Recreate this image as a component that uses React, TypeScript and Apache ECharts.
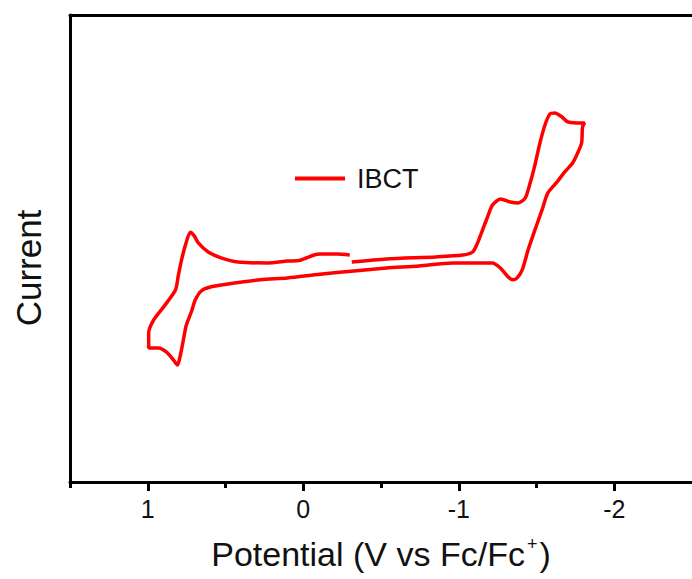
import React, { useEffect, useRef } from "react";
import * as echarts from "echarts";

// Potential (V vs Fc/Fc+) along the scan, in scan order
const potential = [
  -0.312, -0.535, -0.854, -1.025, -1.089, -1.121, -1.153, -1.185, -1.217, -1.268,
  -1.331, -1.382, -1.427, -1.459, -1.49, -1.522, -1.554, -1.586, -1.618, -1.662,
  -1.701, -1.758, -1.809, -1.796, -1.79, -1.764, -1.732, -1.682, -1.631, -1.573,
  -1.535, -1.49, -1.446, -1.408, -1.376, -1.35, -1.318, -1.268, -1.217, -1.127,
  -0.962, -0.745, -0.535, -0.325, -0.108, 0.102, 0.274, 0.484, 0.592, 0.656,
  0.694, 0.72, 0.752, 0.771, 0.79, 0.809, 0.834, 0.879, 0.93, 0.994,
  0.994, 0.962, 0.898, 0.822, 0.803, 0.783, 0.758, 0.726, 0.701, 0.675,
  0.611, 0.529, 0.42, 0.229, 0.102, 0.019, -0.07, -0.108, -0.217, -0.299,
];

// Current (arbitrary units)
const current = [
  47.1, 47.75, 48.2, 48.6, 49.25, 51.2, 53.96, 56.75, 59.3, 60.6,
  59.96, 59.74, 60.8, 64.0, 67.9, 72.6, 76.4, 78.8, 79.0, 78.2,
  77.1, 76.9, 76.9, 76.0, 72.6, 70.4, 68.3, 66.4, 64.2, 61.9,
  58.2, 54.0, 49.7, 45.4, 43.7, 43.3, 43.9, 45.8, 46.9, 46.9,
  46.9, 46.25, 45.8, 45.2, 44.5, 43.7, 43.3, 42.4, 41.8, 40.9,
  39.0, 36.4, 33.6, 30.4, 27.2, 25.05, 26.1, 27.8, 28.7, 28.7,
  31.9, 34.7, 37.5, 41.1, 44.3, 47.5, 50.7, 53.5, 52.7, 51.2,
  49.25, 48.0, 47.1, 46.9, 47.3, 47.5, 48.6, 48.8, 48.8, 48.6,
];

const majorTicks = [1, 0, -1, -2];
const minorTicks = [1.5, 1, 0.5, 0, -0.5, -1, -1.5, -2];
const seriesName = "IBCT";
const xTitle = "Potential (V vs Fc/Fc";
const yTitle = "Current";

export default function App() {
  const ref = useRef<HTMLDivElement>(null);
  useEffect(() => {
    if (!ref.current) return;
    const chart = echarts.init(ref.current, null, { renderer: "svg" });
    const data = potential.map((p, i) => [p, current[i]]);
    const font = "Liberation Sans, Arial, sans-serif";
    chart.setOption({
      animation: false,
      backgroundColor: "#fff",
      grid: {
        left: 70,
        top: 15,
        right: -7,
        bottom: 97,
        show: false,
        containLabel: false,
      },
      legend: {
        left: 295,
        top: 165,
        padding: 0,
        icon: "rect",
        itemWidth: 50,
        itemHeight: 4,
        textStyle: {
          fontFamily: font,
          fontSize: 27,
          color: "#111",
          padding: [0, 0, 0, 7],
        },
        data: [seriesName],
      },
      xAxis: [
        {
          type: "value",
          inverse: true,
          min: -2.5,
          max: 1.5,
          position: "bottom",
          axisLine: { show: true, onZero: false, lineStyle: { color: "#000", width: 3 } },
          axisTick: {
            show: true,
            length: 6,
            customValues: minorTicks,
            lineStyle: { color: "#000", width: 3 },
          },
          axisLabel: { show: false },
          splitLine: { show: false },
        },
        {
          type: "value",
          inverse: true,
          min: -2.5,
          max: 1.5,
          position: "bottom",
          axisLine: { show: false, onZero: false },
          axisTick: {
            show: true,
            length: 9,
            customValues: majorTicks,
            lineStyle: { color: "#000", width: 3 },
          },
          axisLabel: {
            show: true,
            customValues: majorTicks,
            margin: 14,
            fontFamily: font,
            fontSize: 25,
            color: "#111",
          },
          splitLine: { show: false },
          name: `{a|${xTitle}}{sup|+}{a|)}`,
          nameLocation: "middle",
          nameGap: 53,
          nameTextStyle: {
            rich: {
              a: { fontFamily: font, fontSize: 34, color: "#111", lineHeight: 38 },
              sup: {
                fontFamily: font,
                fontSize: 18,
                color: "#111",
                verticalAlign: "top",
                lineHeight: 38,
                padding: [0, 2, 16, 2],
              },
            },
          },
        },
        {
          type: "value",
          inverse: true,
          min: -2.5,
          max: 1.5,
          position: "top",
          axisLine: { show: true, onZero: false, lineStyle: { color: "#000", width: 3 } },
          axisTick: { show: false },
          axisLabel: { show: false },
          splitLine: { show: false },
        },
      ],
      yAxis: {
        type: "value",
        min: 0,
        max: 100,
        position: "left",
        axisLine: { show: true, onZero: false, lineStyle: { color: "#000", width: 3 } },
        axisTick: { show: false },
        axisLabel: { show: false },
        splitLine: { show: false },
      },
      graphic: [
        {
          type: "text",
          x: 28,
          y: 268,
          rotation: Math.PI / 2,
          style: {
            text: yTitle,
            fontFamily: font,
            fontSize: 35,
            fill: "#111",
            textAlign: "center",
            textVerticalAlign: "middle",
          },
        },
      ],
      series: [
        {
          name: seriesName,
          type: "line",
          xAxisIndex: 0,
          data,
          smooth: 0.25,
          showSymbol: false,
          symbol: "none",
          lineStyle: { color: "#ff0000", width: 3.5 },
          itemStyle: { color: "#ff0000" },
        },
      ],
    });
    return () => chart.dispose();
  }, []);
  return (
    <div
      ref={ref}
      style={{ position: "absolute", left: 0, top: 0, width: 692, height: 579 }}
    />
  );
}
